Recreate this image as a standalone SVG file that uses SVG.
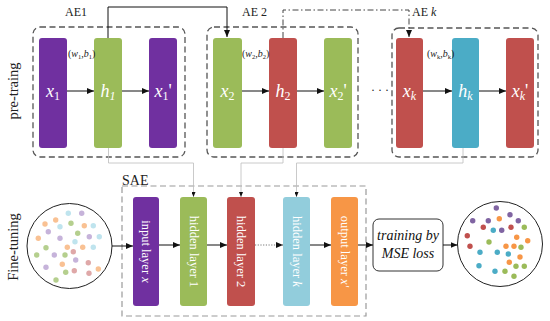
<svg xmlns="http://www.w3.org/2000/svg" width="550" height="321" viewBox="0 0 550 321">
<defs>
<marker id="ah" markerUnits="userSpaceOnUse" markerWidth="7" markerHeight="6" refX="7" refY="3" orient="auto"><path d="M0,0 L7,3 L0,6 z" fill="#111"/></marker>
<marker id="ahs" markerUnits="userSpaceOnUse" markerWidth="5" markerHeight="4" refX="5" refY="2" orient="auto"><path d="M0,0 L5,2 L0,4 z" fill="#111"/></marker>
<style>
text{font-family:"Liberation Serif","Times New Roman",serif;}
.ae{fill:none;stroke:#555;stroke-width:1.3;stroke-dasharray:6,3.5;}
.sae{fill:none;stroke:#9a9a9a;stroke-width:1.2;stroke-dasharray:6,3.5;}
.big{font-size:18px;fill:#fff;text-anchor:middle;font-style:italic;}
.sub{font-size:12px;}
.vl{font-size:12.5px;fill:#fff;text-anchor:middle;}
.lbl{font-size:12px;fill:#222;}
.wb{font-size:10px;fill:#222;}
.side{font-size:14.5px;fill:#222;text-anchor:middle;}
.arr{stroke:#111;stroke-width:1;fill:none;marker-end:url(#ah);}
.gc{stroke:#bdbdbd;stroke-width:0.8;fill:none;marker-end:url(#ahs);}
.pu{fill:#7030A0}.gr{fill:#9BBB59}.rd{fill:#C0504D}.cy{fill:#4BACC6}.lb{fill:#92CDDC}.or{fill:#F79646}
</style>
</defs>
<rect width="550" height="321" fill="#fff"/>

<text class="side" transform="translate(18,91) rotate(-90)">pre-traing</text>
<text class="side" transform="translate(18,247) rotate(-90)">Fine-tuning</text>

<g id="AE1">
<rect class="ae" x="33" y="27" width="152" height="130" rx="7"/>
<text class="lbl" x="65" y="16">AE1</text>
<rect class="pu" x="39" y="38" width="28" height="110" rx="3"/>
<text class="big" x="53" y="97"><tspan>x</tspan><tspan class="sub" font-style="normal" dy="3">1</tspan></text>
<rect class="gr" x="94" y="38" width="28" height="110" rx="3"/>
<text class="big" x="108" y="97"><tspan>h</tspan><tspan class="sub" dy="3">1</tspan></text>
<rect class="pu" x="149" y="38" width="28" height="110" rx="3"/>
<text class="big" x="163" y="97"><tspan>x</tspan><tspan class="sub" font-style="normal" dy="3">1</tspan><tspan font-style="normal" dy="-3">'</tspan></text>
<text class="wb" x="68" y="57">(<tspan font-style="italic">w</tspan><tspan font-size="6.5" dy="2">1</tspan><tspan dy="-2">,</tspan><tspan font-style="italic">b</tspan><tspan font-size="6.5" dy="2">1</tspan><tspan dy="-2">)</tspan></text>
</g>

<g id="AE2">
<rect class="ae" x="207" y="27" width="151" height="130" rx="7"/>
<text class="lbl" x="242" y="16">AE 2</text>
<rect class="gr" x="213" y="38" width="29" height="110" rx="3"/>
<text class="big" x="227.5" y="97"><tspan>x</tspan><tspan class="sub" font-style="normal" dy="3">2</tspan></text>
<rect class="rd" x="269" y="38" width="28" height="110" rx="3"/>
<text class="big" x="283" y="97"><tspan>h</tspan><tspan class="sub" font-style="normal" dy="3">2</tspan></text>
<rect class="gr" x="324" y="38" width="28" height="110" rx="3"/>
<text class="big" x="338" y="97"><tspan>x</tspan><tspan class="sub" font-style="normal" dy="3">2</tspan><tspan font-style="normal" dy="-3">'</tspan></text>
<text class="wb" x="242" y="57">(<tspan font-style="italic">w</tspan><tspan font-size="6.5" dy="2">2</tspan><tspan dy="-2">,</tspan><tspan font-style="italic">b</tspan><tspan font-size="6.5" dy="2">2</tspan><tspan dy="-2">)</tspan></text>
</g>

<text x="380" y="94" font-size="12" fill="#222" text-anchor="middle">· · ·</text>

<g id="AEk">
<rect class="ae" x="392" y="28" width="146" height="129" rx="7"/>
<text class="lbl" x="412" y="16">AE <tspan font-style="italic">k</tspan></text>
<rect class="rd" x="396" y="38" width="27" height="110" rx="3"/>
<text class="big" x="409.5" y="97"><tspan>x</tspan><tspan class="sub" dy="3">k</tspan></text>
<rect class="cy" x="452" y="38" width="27" height="110" rx="3"/>
<text class="big" x="465.5" y="97"><tspan>h</tspan><tspan class="sub" dy="3">k</tspan></text>
<rect class="rd" x="506" y="38" width="28" height="110" rx="3"/>
<text class="big" x="520" y="97"><tspan>x</tspan><tspan class="sub" dy="3">k</tspan><tspan font-style="normal" dy="-3">'</tspan></text>
<text class="wb" x="427" y="57">(<tspan font-style="italic">w</tspan><tspan font-size="6.5" dy="2">k</tspan><tspan dy="-2">,</tspan><tspan font-style="italic">b</tspan><tspan font-size="6.5" dy="2">k</tspan><tspan dy="-2">)</tspan></text>
</g>

<g id="SAE">
<rect class="sae" x="122" y="186" width="244" height="130"/>
<text x="122" y="185" font-size="14" fill="#222">SAE</text>
</g>

<g id="input-layer">
<rect class="pu" x="133" y="197" width="26" height="109" rx="3"/>
<text class="vl" transform="translate(146,251.5) rotate(90)" y="4">input layer <tspan font-style="italic">x</tspan></text>
</g>
<g id="hidden-layer-1">
<rect class="gr" x="180" y="197" width="27" height="109" rx="3"/>
<text class="vl" transform="translate(193.5,251.5) rotate(90)" y="4">hidden layer  1</text>
</g>
<g id="hidden-layer-2">
<rect class="rd" x="227" y="197" width="28" height="109" rx="3"/>
<text class="vl" transform="translate(241,251.5) rotate(90)" y="4">hidden layer  2</text>
</g>
<g id="hidden-layer-k">
<rect class="lb" x="283" y="197" width="27" height="109" rx="3"/>
<text class="vl" transform="translate(296.5,251.5) rotate(90)" y="4">hidden layer <tspan font-style="italic">k</tspan></text>
</g>
<g id="output-layer">
<rect class="or" x="331" y="197" width="27" height="109" rx="3"/>
<text class="vl" transform="translate(344.5,251.5) rotate(90)" y="4">output layer  <tspan font-style="italic">x'</tspan></text>
</g>

<g id="training">
<rect x="373" y="219" width="70" height="52" rx="6" fill="#fff" stroke="#333" stroke-width="1"/>
<text x="408" y="240" font-size="14" font-style="italic" text-anchor="middle" fill="#111">training by</text>
<text x="408" y="258" font-size="14" font-style="italic" text-anchor="middle" fill="#111">MSE loss</text>
</g>

<g id="input-data">
<circle cx="69.5" cy="246" r="42.5" fill="#fff" stroke="#222" stroke-width="1"/>
<g>
<circle cx="68.3" cy="213.3" r="2.7" fill="#BFE4EE"/>
<circle cx="81.7" cy="213.3" r="2.7" fill="#C6B3DA"/>
<circle cx="45" cy="224" r="2.7" fill="#F9C193"/>
<circle cx="55.7" cy="220" r="2.7" fill="#F9C193"/>
<circle cx="60" cy="226.7" r="2.7" fill="#BFE4EE"/>
<circle cx="71" cy="223.3" r="2.7" fill="#B5CF8E"/>
<circle cx="84.3" cy="225.7" r="2.7" fill="#F9C193"/>
<circle cx="93.3" cy="225.7" r="2.7" fill="#BFE4EE"/>
<circle cx="48.3" cy="231.7" r="2.7" fill="#C6B3DA"/>
<circle cx="77.7" cy="233.3" r="2.7" fill="#B5CF8E"/>
<circle cx="89.3" cy="236.7" r="2.7" fill="#C6B3DA"/>
<circle cx="99.3" cy="236.7" r="2.7" fill="#BFE4EE"/>
<circle cx="38.3" cy="238.3" r="2.7" fill="#F9C193"/>
<circle cx="60" cy="238.3" r="2.7" fill="#C6B3DA"/>
<circle cx="75" cy="241.7" r="2.7" fill="#BFE4EE"/>
<circle cx="46" cy="247.7" r="2.7" fill="#B5CF8E"/>
<circle cx="67.3" cy="247.3" r="2.7" fill="#F9C193"/>
<circle cx="82.7" cy="247.3" r="2.7" fill="#F9C193"/>
<circle cx="93.3" cy="247.3" r="2.7" fill="#BFE4EE"/>
<circle cx="73.3" cy="251.7" r="2.7" fill="#DFA8A8"/>
<circle cx="36.7" cy="255" r="2.7" fill="#B5CF8E"/>
<circle cx="54.3" cy="255" r="2.7" fill="#C6B3DA"/>
<circle cx="65" cy="255" r="2.7" fill="#B5CF8E"/>
<circle cx="75.7" cy="260" r="2.7" fill="#C6B3DA"/>
<circle cx="62.3" cy="264.3" r="2.7" fill="#F9C193"/>
<circle cx="88.3" cy="262.7" r="2.7" fill="#DFA8A8"/>
<circle cx="46" cy="267.3" r="2.7" fill="#C6B3DA"/>
<circle cx="65.7" cy="272.3" r="2.7" fill="#B5CF8E"/>
<circle cx="74.3" cy="270.7" r="2.7" fill="#DFA8A8"/>
<circle cx="89" cy="273.3" r="2.7" fill="#DFA8A8"/>
<circle cx="98.3" cy="269" r="2.7" fill="#F9C193"/>
<circle cx="56" cy="280" r="2.7" fill="#B5CF8E"/>
</g>
</g>

<g id="output-data">
<circle cx="500" cy="244" r="42.5" fill="#fff" stroke="#222" stroke-width="1"/>
<g>
<circle cx="496.3" cy="208" r="2.7" style="fill:#8064A2"/>
<circle cx="472.7" cy="220.7" r="2.7" style="fill:#8064A2"/>
<circle cx="488.3" cy="220.7" r="2.7" style="fill:#8064A2"/>
<circle cx="499.3" cy="218.7" r="2.7" style="fill:#F79646"/>
<circle cx="510" cy="214.7" r="2.7" style="fill:#8064A2"/>
<circle cx="518.3" cy="220.7" r="2.7" style="fill:#8064A2"/>
<circle cx="483.3" cy="227.3" r="2.7" style="fill:#C0504D"/>
<circle cx="493.3" cy="230.3" r="2.7" style="fill:#4BACC6"/>
<circle cx="501.7" cy="230.3" r="2.7" style="fill:#8064A2"/>
<circle cx="511" cy="227.3" r="2.7" style="fill:#C0504D"/>
<circle cx="524.3" cy="227.3" r="2.7" style="fill:#9BBB59"/>
<circle cx="467.3" cy="235.7" r="2.7" style="fill:#C0504D"/>
<circle cx="516.7" cy="237.3" r="2.7" style="fill:#F79646"/>
<circle cx="489" cy="242" r="2.7" style="fill:#9BBB59"/>
<circle cx="527.7" cy="240.7" r="2.7" style="fill:#F79646"/>
<circle cx="470" cy="246.3" r="2.7" style="fill:#C0504D"/>
<circle cx="506" cy="246.3" r="2.7" style="fill:#F79646"/>
<circle cx="514" cy="246.3" r="2.7" style="fill:#F79646"/>
<circle cx="521" cy="247.3" r="2.7" style="fill:#9BBB59"/>
<circle cx="480" cy="252.3" r="2.7" style="fill:#4BACC6"/>
<circle cx="497.3" cy="252.3" r="2.7" style="fill:#4BACC6"/>
<circle cx="508.3" cy="254" r="2.7" style="fill:#4BACC6"/>
<circle cx="520" cy="257" r="2.7" style="fill:#F79646"/>
<circle cx="509.3" cy="262.3" r="2.7" style="fill:#F79646"/>
<circle cx="479" cy="265.7" r="2.7" style="fill:#4BACC6"/>
<circle cx="516" cy="266.3" r="2.7" style="fill:#9BBB59"/>
<circle cx="524.3" cy="266.3" r="2.7" style="fill:#9BBB59"/>
<circle cx="495" cy="271.3" r="2.7" style="fill:#4BACC6"/>
<circle cx="505" cy="271.3" r="2.7" style="fill:#9BBB59"/>
<circle cx="514" cy="276.3" r="2.7" style="fill:#9BBB59"/>
</g>
</g>

<g id="connectors">
<line class="arr" x1="67" y1="91" x2="94" y2="91"/>
<line class="arr" x1="122" y1="91" x2="149" y2="91"/>
<line class="arr" x1="242" y1="91" x2="269" y2="91"/>
<line class="arr" x1="297" y1="91" x2="324" y2="91"/>
<line class="arr" x1="423" y1="91" x2="452" y2="91"/>
<line class="arr" x1="479" y1="91" x2="506" y2="91"/>
<polyline class="arr" points="108,38 108,7 227,7 227,37" stroke-width="0.9"/>
<polyline class="arr" points="283,38 283,10 409,10 409,37" stroke-width="0.9" stroke-dasharray="6,2.5,1.5,2.5" style="stroke:#444"/>
<polyline class="gc" points="108.5,148 108.5,163 193.5,163 193.5,197"/>
<polyline class="gc" points="283,148 283,163 241,163 241,197"/>
<polyline class="gc" points="463,148 463,163 296.5,163 296.5,197"/>
<line class="arr" x1="112" y1="246" x2="133" y2="246"/>
<line class="arr" x1="159" y1="245" x2="180" y2="245"/>
<line class="arr" x1="207" y1="245" x2="227" y2="245"/>
<line class="arr" x1="255" y1="245" x2="283" y2="245" stroke-dasharray="1.2,1.5" style="stroke:#777"/>
<line class="arr" x1="310" y1="245" x2="331" y2="245"/>
<line class="arr" x1="358" y1="245" x2="373" y2="245"/>
<line class="arr" x1="443" y1="245" x2="457.5" y2="245"/>
</g>
</svg>
